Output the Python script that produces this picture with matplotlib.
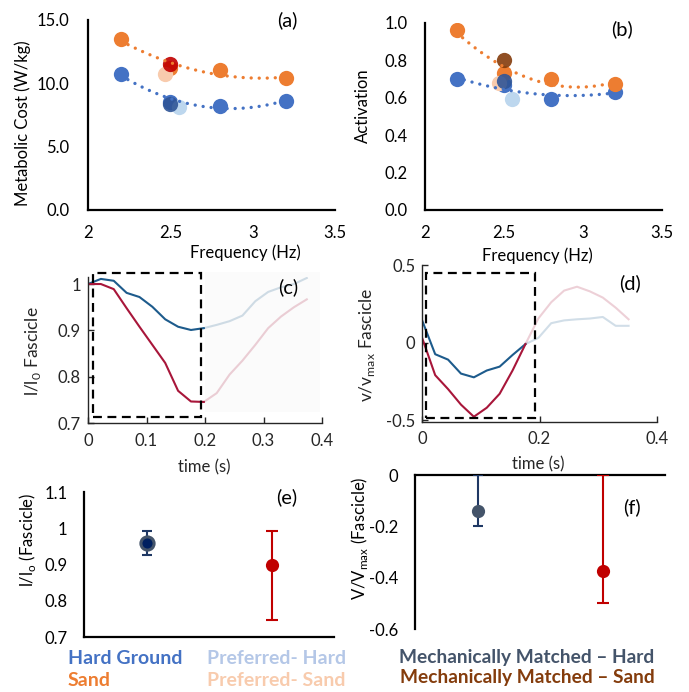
import numpy as np
import matplotlib
matplotlib.use("Agg")
import matplotlib.pyplot as plt
from matplotlib.patches import Rectangle

plt.rcParams['font.family'] = ['Lato', 'DejaVu Sans']

# ---- data: panel (a) / (b) ----
freq = [2.2, 2.5, 2.8, 3.2]
met_hard = [10.7, 8.55, 8.25, 8.6]
met_sand = [13.5, 11.2, 11.05, 10.4]
act_hard = [0.70, 0.665, 0.595, 0.63]
act_sand = [0.96, 0.73, 0.70, 0.675]

pref_freq_hard, pref_freq_sand = 2.55, 2.47
met_pref_hard, met_pref_sand = 8.1, 10.75
act_pref_hard, act_pref_sand = 0.59, 0.68
mech_freq = 2.5
met_mech_hard, met_mech_sand = 8.35, 11.5
act_mech_hard, act_mech_sand = 0.69, 0.80

# ---- data: panel (c) / (d) ----
t_c = [0, 0.022, 0.044, 0.066, 0.088, 0.11, 0.132, 0.154, 0.176, 0.198,
       0.22, 0.242, 0.264, 0.286, 0.308, 0.33, 0.352, 0.374]
len_hard = [1.0, 1.011, 1.007, 0.981, 0.972, 0.951, 0.924, 0.908, 0.901, 0.905,
            0.912, 0.92, 0.932, 0.963, 0.983, 0.993, 1.0, 1.013]
len_sand = [1.0, 1.0, 0.989, 0.948, 0.908, 0.869, 0.83, 0.77, 0.747, 0.746,
            0.765, 0.805, 0.835, 0.869, 0.905, 0.93, 0.95, 0.967]
t_d = t_c[:17]
vel_hard = [0.14, -0.075, -0.11, -0.2, -0.224, -0.18, -0.155, -0.08, -0.01,
            0.03, 0.125, 0.143, 0.15, 0.155, 0.165, 0.108, 0.108]
vel_sand = [0.027, -0.21, -0.30, -0.40, -0.478, -0.42, -0.33, -0.18, -0.01,
            0.155, 0.26, 0.335, 0.36, 0.33, 0.29, 0.225, 0.15]

# ---- data: panel (e) / (f) ----
groups = [1, 2]
e_mean = [0.958, 0.898]
e_low = [0.926, 0.746]
e_high = [0.993, 0.993]
f_mean = [-0.139, -0.373]
f_low = [-0.2, -0.499]
f_high = [0.0, 0.0]

C_HARD, C_SAND = '#4472C4', '#ED7D31'
C_PHARD, C_PSAND = '#BDD7EE', '#F8CBAD'
C_MHARD, C_MSAND = '#2F5597', '#843C0C'
C_NAVY, C_RED = '#1F3864', '#C00000'
C_GRAYBLUE = '#44546A'
C_LB, C_LR = '#1d5b8c', '#a8163a'

W, H = 689, 692
fig = plt.figure(figsize=(W / 100, H / 100), dpi=100)


def add_ax(l, t, r, b):
    return fig.add_axes([l / W, 1 - b / H, (r - l) / W, (b - t) / H])


def ftext(x, y, s, **kw):
    fig.text(x / W, 1 - y / H, s, **kw)


def excel_axes(ax):
    for s in ['top', 'right']:
        ax.spines[s].set_visible(False)
    for s in ['left', 'bottom']:
        ax.spines[s].set_linewidth(1.6)
        ax.spines[s].set_color('black')
    ax.tick_params(length=0, labelsize=12)
    ax.patch.set_alpha(0)


def trend(ax, x, y, color):
    p = np.polyfit(x, y, 2)
    xs = np.linspace(min(x), max(x), 100)
    ax.plot(xs, np.polyval(p, xs), color=color, lw=2.4,
            linestyle=(0, (0.01, 2.4)), dash_capstyle='round', zorder=5)


def scatter_panel(ax, hard, sand, pref_h, pref_s, mech_h, mech_s, mech_sand_color):
    ms = 11
    ax.plot(freq, hard, 'o', color=C_HARD, ms=ms, mec='none', zorder=3)
    ax.plot(freq, sand, 'o', color=C_SAND, ms=ms, mec='none', zorder=3)
    ax.plot(pref_freq_hard, pref_h, 'o', color=C_PHARD, ms=ms, mec='none', zorder=3)
    ax.plot(pref_freq_sand, pref_s, 'o', color=C_PSAND, ms=ms, mec='none', zorder=3)
    ax.plot(mech_freq, mech_h, 'o', color=C_MHARD, ms=ms, mec='none', zorder=4, alpha=0.9)
    ax.plot(mech_freq, mech_s, 'o', color=mech_sand_color, ms=ms, mec='none', zorder=4, alpha=0.9)
    trend(ax, freq, hard, C_HARD)
    trend(ax, freq, sand, C_SAND)
    ax.set_xlim(2, 3.5)
    ax.set_xticks([2, 2.5, 3, 3.5])
    ax.set_xticklabels(['2', '2.5', '3', '3.5'])


# ---- (a) ----
ax_a = add_ax(88, 20, 335, 210)
excel_axes(ax_a)
scatter_panel(ax_a, met_hard, met_sand, met_pref_hard, met_pref_sand,
              met_mech_hard, met_mech_sand, C_RED)
ax_a.set_ylim(0, 15)
ax_a.set_yticks([0, 5, 10, 15])
ax_a.set_yticklabels(['0.0', '5.0', '10.0', '15.0'])
ax_a.tick_params(axis='y', pad=13.5)
ax_a.tick_params(axis='x', pad=11)
ftext(23, 123, 'Metabolic Cost (W/kg)', rotation=90, ha='center', va='center', fontsize=12)
ftext(245, 253, 'Frequency (Hz)', ha='center', va='center', fontsize=12)
ftext(287, 20, '(a)', ha='center', va='center', fontsize=14.5)

# ---- (b) ----
ax_b = add_ax(425, 22.7, 662, 210)
excel_axes(ax_b)
scatter_panel(ax_b, act_hard, act_sand, act_pref_hard, act_pref_sand,
              act_mech_hard, act_mech_sand, C_MSAND)
ax_b.set_ylim(0, 1)
ax_b.set_yticks([0, 0.2, 0.4, 0.6, 0.8, 1.0])
ax_b.set_yticklabels(['0.0', '0.2', '0.4', '0.6', '0.8', '1.0'])
ax_b.tick_params(axis='y', pad=12.5)
ax_b.tick_params(axis='x', pad=11)
ftext(363, 106, 'Activation', rotation=90, ha='center', va='center', fontsize=12)
ftext(537, 256, 'Frequency (Hz)', ha='center', va='center', fontsize=12)
ftext(622, 29, '(b)', ha='center', va='center', fontsize=14.5)


def matlab_axes(ax):
    for s in ['top', 'right']:
        ax.spines[s].set_visible(False)
    for s in ['left', 'bottom']:
        ax.spines[s].set_linewidth(1.0)
        ax.spines[s].set_color('#262626')
    ax.tick_params(direction='in', length=4, width=1, colors='#262626',
                   labelsize=12, pad=7)
    ax.patch.set_alpha(0)


def box(ax, x0, x1, y0, y1):
    ax.add_patch(Rectangle((x0, y0), x1 - x0, y1 - y0, fill=False, ec='black',
                           lw=1.6, ls=(0, (4, 2.5)), clip_on=False, zorder=6))


# ---- (c) ----
ax_c = add_ax(88, 276.6, 322, 423.3)
matlab_axes(ax_c)
ax_c.add_patch(Rectangle((0.2, 0.725), 0.197, 0.30, color='#fbfbfb', lw=0,
                         clip_on=False, zorder=0))
n = 10
ax_c.plot(t_c[n - 1:], len_hard[n - 1:], color=C_LB, lw=1.5, alpha=0.2)
ax_c.plot(t_c[n - 1:], len_sand[n - 1:], color=C_LR, lw=1.5, alpha=0.2)
ax_c.plot(t_c[:n], len_hard[:n], color=C_LB, lw=1.5)
ax_c.plot(t_c[:n], len_sand[:n], color=C_LR, lw=1.5)
box(ax_c, 0.008, 0.193, 0.713, 1.024)
ax_c.set_xlim(0, 0.4)
ax_c.set_ylim(0.7, 1.016)
ax_c.set_xticks([0, 0.1, 0.2, 0.3, 0.4])
ax_c.set_xticklabels(['0', '0.1', '0.2', '0.3', '0.4'])
ax_c.set_yticks([0.7, 0.8, 0.9, 1.0])
ax_c.set_yticklabels(['0.7', '0.8', '0.9', '1'])
ax_c.tick_params(axis='y', pad=5)
ftext(33, 351, r'l/l$_\mathregular{0}$ Fascicle', rotation=90, ha='center',
      va='center', fontsize=12.5, color='#262626')
ftext(204, 467, 'time (s)', ha='center', va='center', fontsize=12, color='#262626')
ftext(288, 287, '(c)', ha='center', va='center', fontsize=14.5)

# ---- (d) ----
ax_d = add_ax(422.3, 265, 656.7, 421.7)
matlab_axes(ax_d)
m = 9
ax_d.plot(t_d[m - 1:], vel_hard[m - 1:], color=C_LB, lw=1.5, alpha=0.2)
ax_d.plot(t_d[m - 1:], vel_sand[m - 1:], color=C_LR, lw=1.5, alpha=0.2)
ax_d.plot(t_d[:m], vel_hard[:m], color=C_LB, lw=1.5)
ax_d.plot(t_d[:m], vel_sand[:m], color=C_LR, lw=1.5)
box(ax_d, 0.006, 0.192, -0.483, 0.45)
ax_d.set_xlim(0, 0.4)
ax_d.set_ylim(-0.51, 0.5)
ax_d.set_xticks([0, 0.2, 0.4])
ax_d.set_xticklabels(['0', '0.2', '0.4'])
ax_d.set_yticks([-0.5, 0, 0.5])
ax_d.set_yticklabels(['-0.5', '0', '0.5'])
ax_d.tick_params(axis='y', pad=5)
ftext(367, 345, r'v/v$_\mathregular{max}$ Fascicle', rotation=90, ha='center',
      va='center', fontsize=12.5, color='#262626')
ftext(538, 464, 'time (s)', ha='center', va='center', fontsize=12, color='#262626')
ftext(630, 283, '(d)', ha='center', va='center', fontsize=14.5)


def err_point(ax, x, mean, low, high, ecol, fcol, edge, ms, cap):
    ax.errorbar([x], [mean], yerr=[[mean - low], [high - mean]], fmt='none',
                ecolor=ecol, elinewidth=1.5, capsize=cap, capthick=1.5, zorder=3)
    ax.plot([x], [mean], 'o', color=fcol, mec=edge, mew=2.2 if edge != fcol else 0,
            ms=ms, zorder=4)


# ---- (e) ----
ax_e = add_ax(84, 492, 334, 637)
excel_axes(ax_e)
err_point(ax_e, groups[0], e_mean[0], e_low[0], e_high[0], C_NAVY, '#002060', C_GRAYBLUE, 9.5, 3.8)
err_point(ax_e, groups[1], e_mean[1], e_low[1], e_high[1], C_RED, C_RED, C_RED, 9.5, 4.3)
ax_e.set_xlim(0.5, 2.5)
ax_e.set_ylim(0.7, 1.1)
ax_e.set_xticks([])
ax_e.set_yticks([0.7, 0.8, 0.9, 1.0, 1.1])
ax_e.set_yticklabels(['0.7', '0.8', '0.9', '1', '1.1'])
ax_e.tick_params(axis='y', pad=12)
ftext(27, 540, r'l/l$_\mathregular{o}$ (Fascicle)', rotation=90, ha='center',
      va='center', fontsize=12)
ftext(287, 497, '(e)', ha='center', va='center', fontsize=14.5)

# ---- (f) ----
ax_f = add_ax(415, 475, 665, 629)
excel_axes(ax_f)
ax_f.spines['bottom'].set_visible(False)
ax_f.spines['top'].set_visible(True)
ax_f.spines['top'].set_linewidth(1.6)
ax_f.spines['top'].set_color('black')
err_point(ax_f, groups[0], f_mean[0], f_low[0], f_high[0], C_NAVY, C_GRAYBLUE, C_GRAYBLUE, 9.5, 3.8)
err_point(ax_f, groups[1], f_mean[1], f_low[1], f_high[1], C_RED, C_RED, C_RED, 9.5, 4.3)
ax_f.set_xlim(0.5, 2.5)
ax_f.set_ylim(-0.6, 0)
ax_f.set_xticks([])
ax_f.set_yticks([-0.6, -0.4, -0.2, 0])
ax_f.set_yticklabels(['-0.6', '-0.4', '-0.2', '0'])
ax_f.tick_params(axis='y', pad=12)
ftext(360, 538, r'V/V$_\mathregular{max}$ (Fascicle)', rotation=90, ha='center',
      va='center', fontsize=12)
ftext(632, 507, '(f)', ha='center', va='center', fontsize=14.5)

# ---- legend text ----
ftext(68, 658, 'Hard Ground', color=C_HARD, fontsize=14, fontweight='bold', va='center')
ftext(68, 681, 'Sand', color=C_SAND, fontsize=14, fontweight='bold', va='center')
ftext(207, 658, 'Preferred- Hard', color='#B4C7E7', fontsize=14, fontweight='bold', va='center')
ftext(207, 681, 'Preferred- Sand', color=C_PSAND, fontsize=14, fontweight='bold', va='center')
ftext(527, 657, 'Mechanically Matched \u2013 Hard', color=C_GRAYBLUE, fontsize=13.8,
      fontweight='bold', ha='center', va='center')
ftext(527, 678, 'Mechanically Matched \u2013 Sand', color=C_MSAND, fontsize=13.8,
      fontweight='bold', ha='center', va='center')

fig.savefig('out.png', dpi=100)
